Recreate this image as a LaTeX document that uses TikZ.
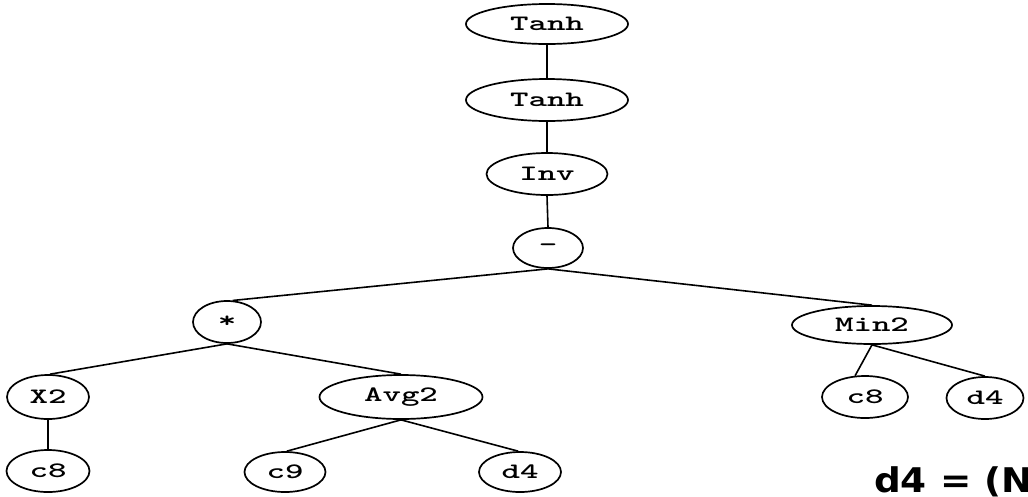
\documentclass[tikz,border=0pt]{standalone}
\usepackage{fontspec}
\usepackage{graphicx}
\usetikzlibrary{shapes.geometric}
\newfontfamily\labelfont{DejaVu Sans}
% wide, heavy typewriter labels
\newcommand{\widett}[1]{\scalebox{1.6}[1]{\fontsize{22}{25}\selectfont\ttfamily\bfseries #1}}
\tikzset{
  op/.style={ellipse, draw, line width=1.7pt, inner sep=0pt},
  edge/.style={line width=1.6pt},
}
\begin{document}
\begin{tikzpicture}[x=1pt,y=-1pt]
  \clip (0,0) rectangle (1028,496);
  \fill[white] (0,0) rectangle (1028,496);

  % operator and terminal nodes
  \node[op, minimum width=162, minimum height=40] (t1)    at (547,24)  {\widett{Tanh}};
  \node[op, minimum width=162, minimum height=42] (t2)    at (547,100) {\widett{Tanh}};
  \node[op, minimum width=121, minimum height=42] (inv)   at (547,174) {\widett{Inv}};
  \node[op, minimum width=70,  minimum height=40] (minus) at (548,248) {\widett{-}};
  \node[op, minimum width=68,  minimum height=42] (mul)   at (227,322) {\widett{*}};
  \node[op, minimum width=160, minimum height=38] (min2)  at (872,325) {\widett{Min2}};
  \node[op, minimum width=82,  minimum height=44] (x2)    at (48,397)  {\widett{X2}};
  \node[op, minimum width=163, minimum height=44] (avg2)  at (401,397) {\widett{Avg2}};
  \node[op, minimum width=86,  minimum height=42] (c8r)   at (865,397) {\widett{c8}};
  \node[op, minimum width=77,  minimum height=42] (d4r)   at (985,398) {\widett{d4}};
  \node[op, minimum width=83,  minimum height=42] (c8l)   at (48,471)  {\widett{c8}};
  \node[op, minimum width=81,  minimum height=40] (c9)    at (285,472) {\widett{c9}};
  \node[op, minimum width=82,  minimum height=40] (d4m)   at (520,472) {\widett{d4}};

  % tree edges
  \draw[edge] (t1.south) -- (t2.north);
  \draw[edge] (t2.south) -- (inv.north);
  \draw[edge] (inv.south) -- (minus.north);
  \draw[edge] (minus.south) -- (mul.75);
  \draw[edge] (minus.south) -- (min2.north);
  \draw[edge] (mul.south) -- (x2.85);
  \draw[edge] (mul.south) -- (avg2.north);
  \draw[edge] (x2.south) -- (c8l.north);
  \draw[edge] (avg2.south) -- (c9.85);
  \draw[edge] (avg2.south) -- (d4m.95);
  \draw[edge] (min2.south) -- (c8r.115);
  \draw[edge] (min2.south) -- (d4r.north);

  % caption running off the right edge
  \node[anchor=base west, inner sep=0pt] (cap) at (874,492)
    {\scalebox{1.1}[1]{\labelfont\bfseries\fontsize{34}{40}\selectfont d4 = (N}};
\end{tikzpicture}
\end{document}
